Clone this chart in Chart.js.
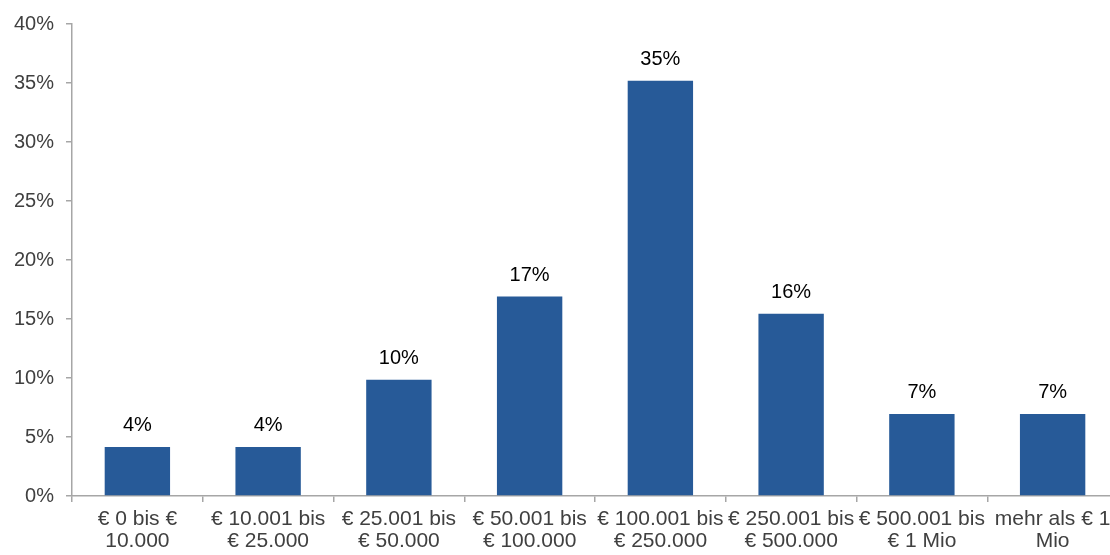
<!DOCTYPE html>
<html>
<head>
<meta charset="utf-8">
<script src="https://cdn.jsdelivr.net/npm/chart.js@4.4.0/dist/chart.umd.min.js"></script>
<style>
  html, body { margin: 0; padding: 0; background: #fff; overflow: hidden; }
  #wrap { width: 1118px; height: 555px; }
</style>
</head>
<body>
<div id="wrap"><canvas id="chart"></canvas></div>
<script>
// Kategorien (Vermögensklassen)
let kategorien = [
    ["€ 0 bis €", "10.000"],
    ["€ 10.001 bis", "€ 25.000"],
    ["€ 25.001 bis", "€ 50.000"],
    ["€ 50.001 bis", "€ 100.000"],
    ["€ 100.001 bis", "€ 250.000"],
    ["€ 250.001 bis", "€ 500.000"],
    ["€ 500.001 bis", "€ 1 Mio"],
    ["mehr als € 1", "Mio"]
];

// Anteile in Prozent
let anteile = [4.15, 4.15, 9.85, 16.9, 35.2, 15.45, 6.95, 6.95];

// Beschriftungen über den Balken
let beschriftungen = ["4%", "4%", "10%", "17%", "35%", "16%", "7%", "7%"];

// Y-Achse
let yMin = 0;
let yMax = 40;
let yStep = 5;

let schrift = "'Liberation Sans', Arial, sans-serif";

// Plugin: Werte über den Balken zeichnen
let wertePlugin = {
    id: "werte",
    afterDatasetsDraw(chart) {
        let ctx = chart.ctx;
        let meta = chart.getDatasetMeta(0);
        ctx.save();
        ctx.font = "20px " + schrift;
        ctx.fillStyle = "#000000";
        ctx.textAlign = "center";
        ctx.textBaseline = "alphabetic";
        meta.data.forEach(function (bar, i) {
            ctx.fillText(beschriftungen[i], bar.x, bar.y - 16);
        });
        ctx.restore();
    }
};

let ctx = document.getElementById("chart").getContext("2d");

let chart = new Chart(ctx, {
    type: "bar",
    data: {
        labels: kategorien,
        datasets: [{
            data: anteile,
            backgroundColor: "#275a98",
            borderWidth: 0,
            barPercentage: 0.5,
            categoryPercentage: 1.0
        }]
    },
    options: {
        responsive: true,
        maintainAspectRatio: false,
        animation: false,
        layout: {
            padding: { top: 23, right: 0, bottom: 0, left: 0 }
        },
        plugins: {
            legend: { display: false },
            tooltip: { enabled: false }
        },
        scales: {
            x: {
                offset: true,
                grid: {
                    display: true,
                    offset: true,
                    drawOnChartArea: false,
                    drawTicks: true,
                    tickLength: 6,
                    color: "#a6a6a6",
                    lineWidth: 1.5
                },
                border: { color: "#a6a6a6", width: 1.5 },
                ticks: {
                    color: "#404040",
                    font: { family: schrift, size: 21, lineHeight: 1.05 },
                    maxRotation: 0,
                    autoSkip: false,
                    padding: 6
                },
                afterFit: function (scale) { scale.height = 59; }
            },
            y: {
                min: yMin,
                max: yMax,
                grid: {
                    display: true,
                    drawOnChartArea: false,
                    drawTicks: true,
                    tickLength: 6,
                    color: "#a6a6a6",
                    lineWidth: 1.5
                },
                border: { color: "#a6a6a6", width: 1.5 },
                ticks: {
                    stepSize: yStep,
                    color: "#404040",
                    font: { family: schrift, size: 20 },
                    padding: 12,
                    callback: function (v) { return v + "%"; }
                },
                afterFit: function (scale) { scale.width = 72; }
            }
        }
    },
    plugins: [wertePlugin]
});
</script>
</body>
</html>
